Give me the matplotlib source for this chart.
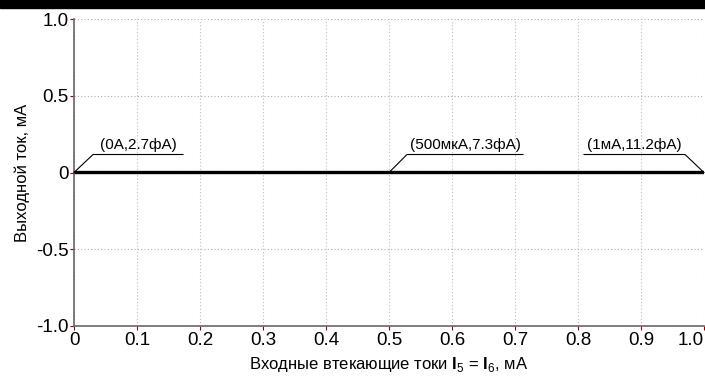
import matplotlib
matplotlib.use("Agg")
import matplotlib.pyplot as plt
from matplotlib.patches import Rectangle

plt.rcParams['font.family'] = ['Liberation Sans', 'DejaVu Sans']
plt.rcParams['mathtext.fontset'] = 'custom'
plt.rcParams['mathtext.rm'] = 'Liberation Sans'
plt.rcParams['mathtext.bf'] = 'Liberation Sans:bold'

# data: input current (mA) vs output current (fA -> mA)
x_ma = [0.0, 0.5, 1.0]
y_fa = [2.7, 7.3, 11.2]
labels = ["(0A,2.7фА)", "(500мкА,7.3фА)", "(1мА,11.2фА)"]
x_ticks = [0, 0.1, 0.2, 0.3, 0.4, 0.5, 0.6, 0.7, 0.8, 0.9, 1.0]
x_ticklabels = ["0", "0.1", "0.2", "0.3", "0.4", "0.5", "0.6", "0.7", "0.8", "0.9", "1.0"]
y_ticks = [-1.0, -0.5, 0, 0.5, 1.0]
y_ticklabels = ["-1.0", "-0.5", "0", "0.5", "1.0"]

y_ma = [v * 1e-12 for v in y_fa]

fig = plt.figure(figsize=(7.05, 3.76), dpi=100)
fig.patches.append(Rectangle((0, 1 - 8 / 376), 1, 8 / 376, transform=fig.transFigure,
                             color='black', zorder=10))
ax = fig.add_axes([74 / 705, 50 / 376, 630 / 705, 307 / 376])

ax.plot(x_ma, y_ma, color='black', lw=2.4, zorder=5, solid_capstyle='butt')
ax.set_xlim(0, 1.0)
ax.set_ylim(-1.0, 1.0)
ax.set_xticks(x_ticks)
ax.set_xticklabels(x_ticklabels)
ax.set_yticks(y_ticks)
ax.set_yticklabels(y_ticklabels)
ax.tick_params(axis='both', labelsize=13.5, length=3, color='#8b0000', pad=1)
ax.get_xticklabels()[-1].set_horizontalalignment('right')
ax.grid(True, axis='y', color='#c9a3a3', linestyle=(0, (1, 2)), lw=0.8)
ax.grid(True, axis='x', color='#bdbdbd', linestyle=(0, (1, 2)), lw=0.8)

for s in ['top', 'right']:
    ax.spines[s].set_visible(False)
for s in ['left', 'bottom']:
    ax.spines[s].set_color('#666666')
    ax.spines[s].set_linewidth(1.2)

ax.set_xlabel(r"Входные втекающие токи $\mathbf{I}_5$ = $\mathbf{I}_6$, мА", fontsize=12, labelpad=5)
ax.set_ylabel("Выходной ток, мА", fontsize=12, labelpad=4)

# annotations: (diag dx, dy, horizontal length) in pixels
styles = [(19, 18, 90), (18, 18, 116), (-19, 18, -101)]
inv = fig.transFigure.inverted()
for xv, yv, lab, (dx, dy, hl) in zip(x_ma, y_ma, labels, styles):
    base = ax.transData.transform((xv, yv))
    p0 = inv.transform(base)
    p1 = inv.transform((base[0] + dx, base[1] + dy))
    p2 = inv.transform((base[0] + dx + hl, base[1] + dy))
    fig.add_artist(plt.Line2D([p0[0], p1[0], p2[0]], [p0[1], p1[1], p2[1]],
                              color='black', lw=0.8, transform=fig.transFigure))
    tc = inv.transform((base[0] + dx + hl / 2, base[1] + dy + 2))
    fig.text(tc[0], tc[1], lab, ha='center', va='bottom', fontsize=11)

fig.savefig("out.png", dpi=100)
